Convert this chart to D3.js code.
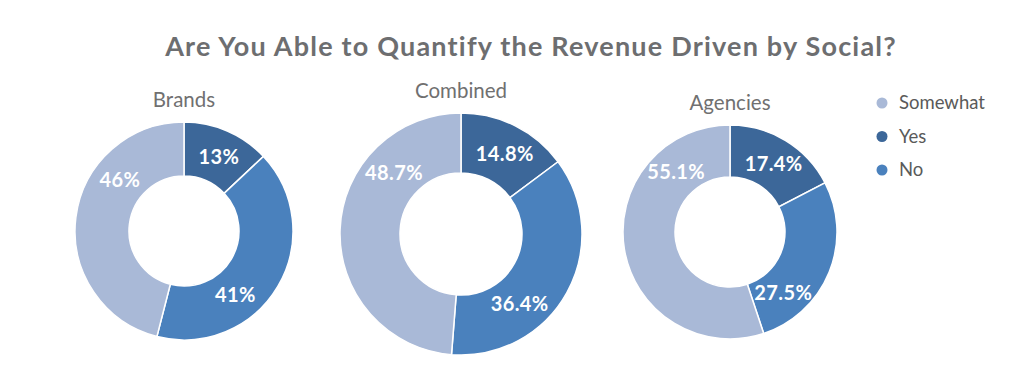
<!DOCTYPE html>
<html>
<head>
<meta charset="utf-8">
<script src="https://cdn.jsdelivr.net/npm/d3@7"></script>
<style>
  html, body { margin: 0; padding: 0; background: #ffffff; }
  svg { display: block; }
  text { font-family: Lato, "Open Sans", sans-serif; }
</style>
</head>
<body>
<svg id="chart" width="1024" height="379"></svg>
<script>
// ---- data ----
const title = "Are You Able to Quantify the Revenue Driven by Social?";
const categories = ["Yes", "No", "Somewhat"];
const legendOrder = ["Somewhat", "Yes", "No"];
const groups = ["Brands", "Combined", "Agencies"];
const brandsValues = [13, 41, 46];
const combinedValues = [14.8, 36.4, 48.7];
const agenciesValues = [17.4, 27.5, 55.1];
const brandsLabels = ["13%", "41%", "46%"];
const combinedLabels = ["14.8%", "36.4%", "48.7%"];
const agenciesLabels = ["17.4%", "27.5%", "55.1%"];

// ---- layout / style ----
const colors = { "Yes": "#3c6799", "No": "#4a81bd", "Somewhat": "#a9b9d7" };
const layout = [
  { cx: 184, cy: 231, r: 109, ri: 55, labelFrac: [0.54, 0.64, 0.69] },
  { cx: 461, cy: 234, r: 121, ri: 61, labelFrac: [0.54, 0.66, 0.73] },
  { cx: 730, cy: 232, r: 107, ri: 55, labelFrac: [0.52, 0.77, 0.79] }
];
const seriesValues = [brandsValues, combinedValues, agenciesValues];
const seriesLabels = [brandsLabels, combinedLabels, agenciesLabels];

const svg = d3.select("#chart");

svg.append("text")
  .attr("x", 531).attr("y", 56)
  .attr("text-anchor", "middle")
  .attr("font-size", 27).attr("font-weight", 700)
  .attr("letter-spacing", 1.2)
  .attr("fill", "#6d6e70")
  .text(title);

const pie = d3.pie().sort(null).value(d => d.value);

groups.forEach((g, gi) => {
  const L = layout[gi];
  const data = categories.map((c, i) => ({ cat: c, value: seriesValues[gi][i], label: seriesLabels[gi][i] }));
  const arcs = pie(data);
  const arc = d3.arc().innerRadius(L.ri).outerRadius(L.r);
  const gEl = svg.append("g").attr("transform", `translate(${L.cx},${L.cy})`);

  gEl.selectAll("path").data(arcs).join("path")
    .attr("d", arc)
    .attr("fill", d => colors[d.data.cat])
    .attr("stroke", "#ffffff")
    .attr("stroke-width", 1.5);

  const rMid = (L.ri + L.r) / 2;
  gEl.selectAll("text.lbl").data(arcs).join("text")
    .attr("class", "lbl")
    .attr("transform", (d, i) => {
      const a = d.startAngle + (d.endAngle - d.startAngle) * L.labelFrac[i];
      return `translate(${rMid * Math.sin(a)},${-rMid * Math.cos(a)})`;
    })
    .attr("text-anchor", "middle")
    .attr("dy", "0.36em")
    .attr("font-size", 20).attr("font-weight", 700)
    .attr("letter-spacing", 0.4)
    .attr("fill", "#ffffff")
    .text(d => d.data.label);

  svg.append("text")
    .attr("x", L.cx).attr("y", L.cy - L.r - 15)
    .attr("text-anchor", "middle")
    .attr("font-size", 20.5)
    .attr("fill", "#707070")
    .text(g);
});

// legend
const legend = svg.append("g");
const ly = d3.scalePoint().domain(legendOrder).range([103, 170]);
legendOrder.forEach(c => {
  legend.append("circle").attr("cx", 882).attr("cy", ly(c)).attr("r", 5.5).attr("fill", colors[c]);
  legend.append("text").attr("x", 899).attr("y", ly(c)).attr("dy", "0.35em")
    .attr("font-size", 18.5).attr("fill", "#5a5a5a").text(c);
});
</script>
</body>
</html>
